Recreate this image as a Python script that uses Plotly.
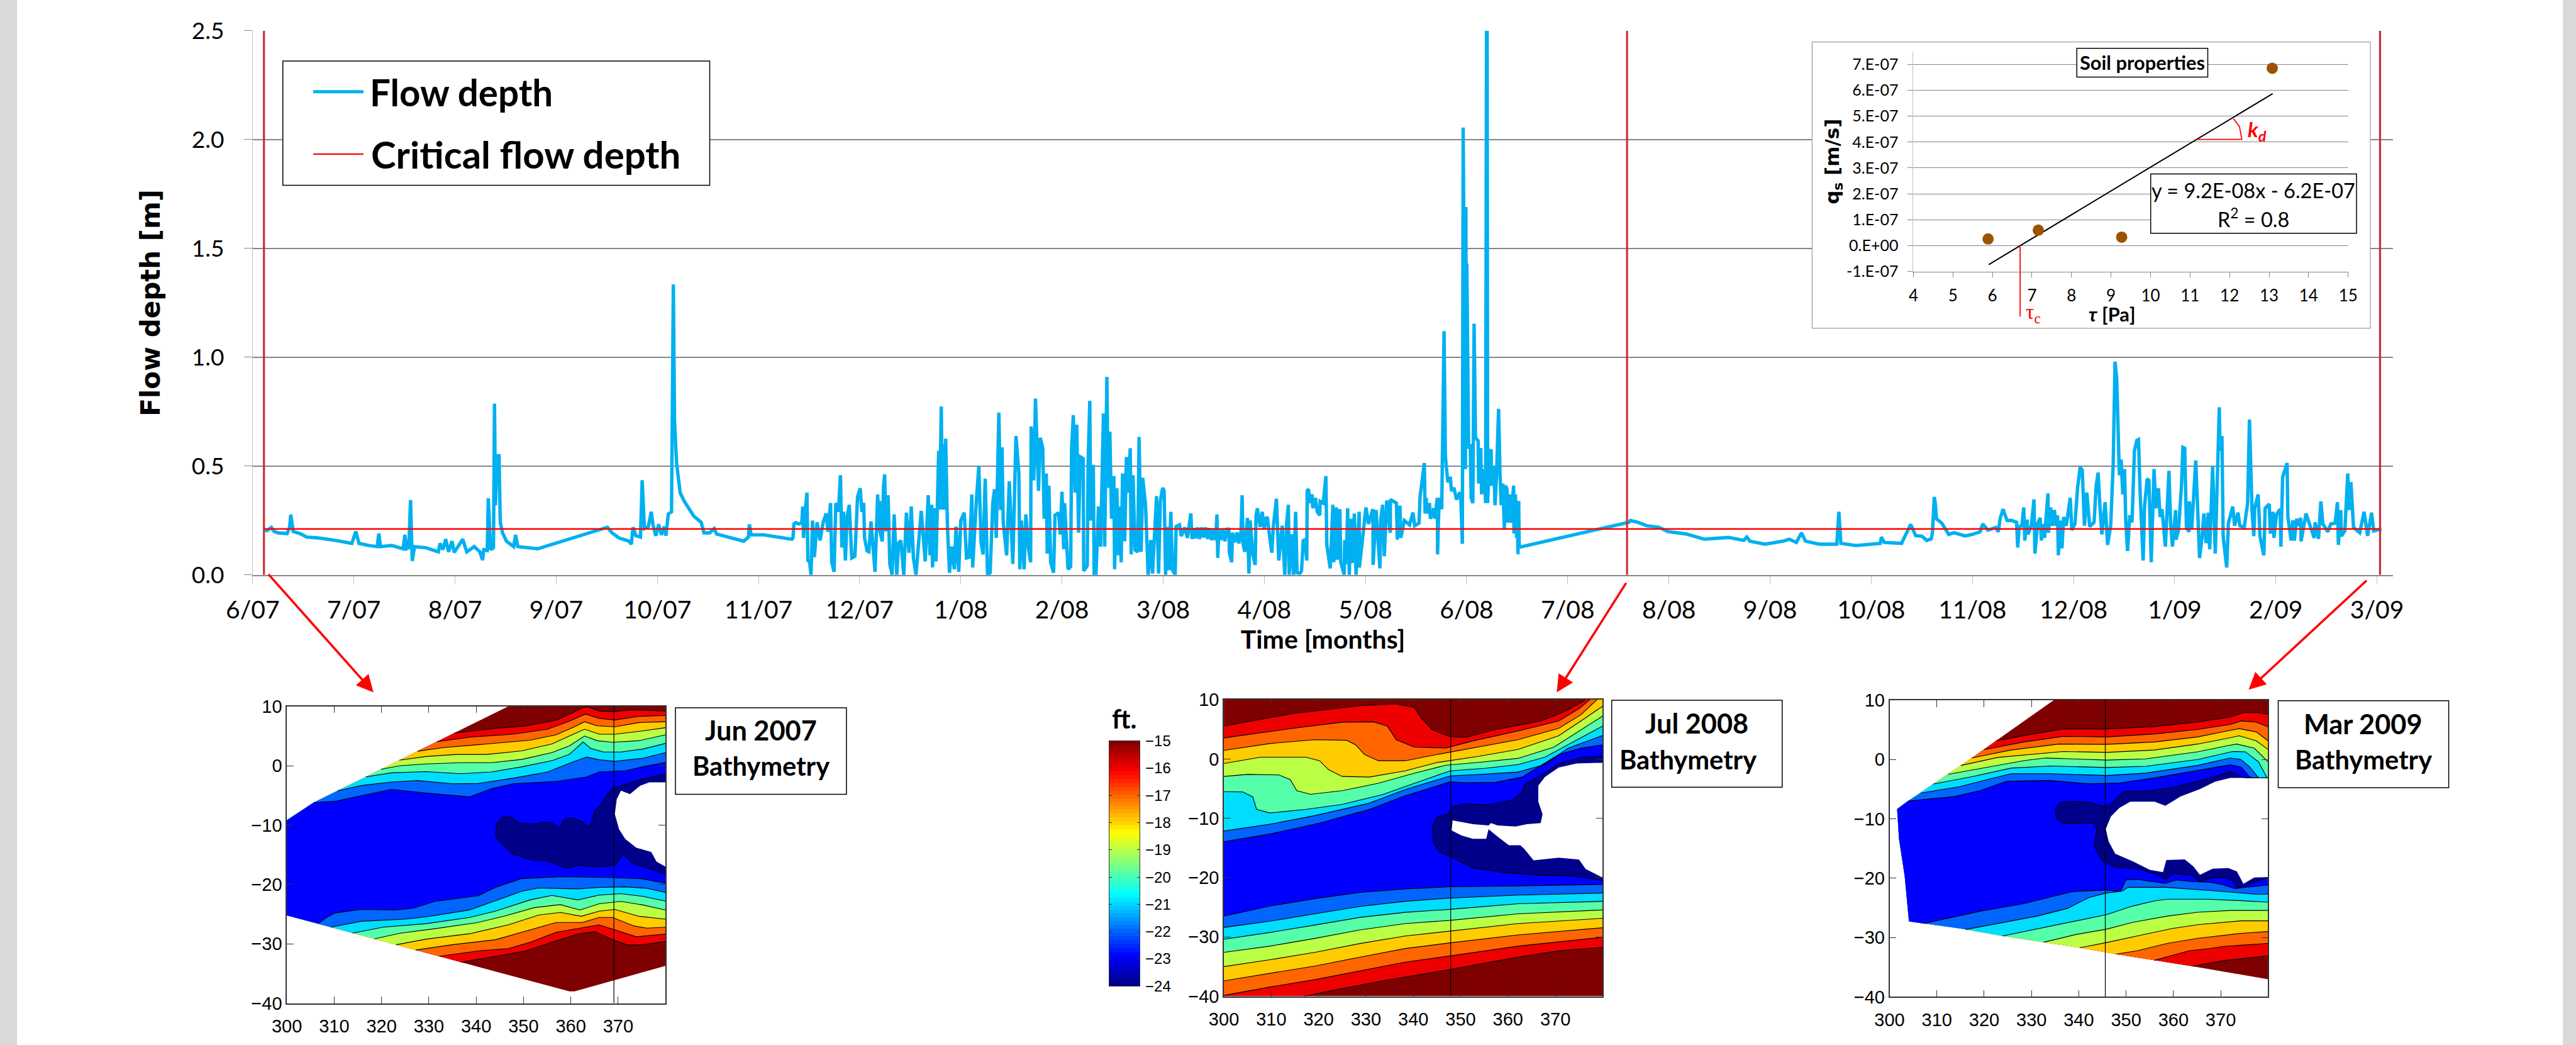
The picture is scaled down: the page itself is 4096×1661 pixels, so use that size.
import plotly.graph_objects as go

REF_W, REF_H = 4918, 1994
S = 4096 / REF_W

MONTH_LABELS = ["6/07","7/07","8/07","9/07","10/07","11/07","12/07","1/08","2/08","3/08","4/08",
                "5/08","6/08","7/08","8/08","9/08","10/08","11/08","12/08","1/09","2/09","3/09"]
MONTH_POS = list(range(22))
CRITICAL_DEPTH = 0.211
SURVEY_MONTHS = [0.111, 13.586, 21.03]

FLOW_2007 = [(0.11,.21),(.14,.203),(.185,.218),(.21,.2),(.25,.193),(.34,.19),(.365,.22),(.376,.277),(.40,.2),(.477,.188),
 (.533,.174),(.645,.17),(.814,.159),(.98,.145),(1.02,.2),(1.05,.145),(1.15,.135),(1.23,.13),(1.247,.19),(1.263,.13),
 (1.375,.135),(1.487,.12),(1.504,.184),(1.52,.12),(1.543,.125),(1.56,.344),(1.577,.064),(1.6,.13),(1.71,.125),(1.835,.106),
 (1.852,.145),(1.88,.116),(1.908,.164),(1.936,.106),(1.97,.155),(1.992,.103),(2.076,.164),(2.116,.106),(2.19,.13),(2.245,.106),
 (2.273,.068),(2.284,.116),(2.318,.112),(2.329,.352),(2.351,.116),(2.38,.125),(2.39,.787),(2.40,.32),(2.413,.532),(2.424,.547),
 (2.435,.547),(2.447,.242),(2.47,.193),(2.508,.155),(2.58,.13),(2.598,.184),(2.62,.13),(2.72,.125),(2.817,.12),(3.507,.219),
 (3.552,.193),(3.62,.17),(3.72,.155),(3.743,.141),(3.76,.219),(3.788,.18),(3.833,.174),(3.85,.435),(3.872,.213),(3.911,.222),
 (3.94,.29),(3.956,.232),(3.984,.18),(4.013,.232),(4.04,.184),(4.068,.222),(4.085,.18),(4.108,.28),(4.14,.29),(4.158,1.335),
 (4.17,.706),(4.19,.513),(4.226,.377),(4.265,.339),(4.304,.31),(4.36,.27),(4.433,.242),(4.461,.193),(4.517,.193),(4.562,.213),
 (4.585,.188),(4.714,.174),(4.854,.155),(4.9,.174),(4.91,.232),(4.927,.184),(5.05,.184),(5.33,.164)]

FLOW_WINTER_A = [(5.341,.17),(5.35,.234),(5.367,.24),(5.40,.234),(5.428,.24),(5.437,.314),(5.445,.17),(5.466,.314),(5.479,.378),
 (5.488,.066),(5.505,.062),(5.519,0),(5.534,.25),(5.552,.082),(5.579,.242),(5.609,.158),(5.638,.24),(5.669,.282),(5.686,.198),
 (5.712,.33),(5.724,.058),(5.747,.014),(5.764,.33),(5.79,.29),(5.81,.458),(5.824,.126),(5.841,.29),(5.859,.066),(5.876,.266),
 (5.897,.322),(5.922,.078),(5.953,.086),(5.979,.358),(6.005,.398),(6.022,.29),(6.04,.33),(6.048,.17),(6.074,.11),(6.091,.106),
 (6.112,.246),(6.134,.106),(6.152,.014),(6.178,.37),(6.19,.2),(6.196,.34),(6.203,.194),(6.224,.154),(6.235,.4),(6.247,.462),
 (6.26,.2),(6.281,.366),(6.298,.05),(6.321,0),(6.341,.278),(6.367,0),(6.384,.146),(6.407,.158),(6.436,0),(6.462,.286),(6.488,.102),
 (6.51,.314),(6.531,.078),(6.557,0),(6.583,.162),(6.609,.294),(6.648,.062),(6.678,.366),(6.695,.09),(6.712,.322),(6.72,.034),
 (6.738,.306),(6.755,.062),(6.781,.57),(6.79,.3),(6.798,.7),(6.807,.774),(6.816,.3),(6.822,.434),(6.83,.6),(6.836,.3),(6.85,.626),
 (6.867,.234),(6.888,.01),(6.91,.13),(6.936,.026),(6.953,.222),(6.979,.014),(7.0,.25),(7.034,.286),(7.056,.078),(7.083,.082),
 (7.109,.37),(7.117,.034),(7.152,.33),(7.178,.50),(7.2,.15),(7.22,.094),(7.241,.442),(7.264,0),(7.29,.01),(7.316,.33),(7.333,.394),
 (7.35,.17),(7.376,.746),(7.393,.298),(7.407,.586),(7.419,.242),(7.453,.09),(7.479,.43),(7.514,.05),(7.545,.638),(7.574,.466),
 (7.583,.026),(7.6,.25),(7.626,.026),(7.643,.278),(7.669,.12),(7.69,.058),(7.695,.682),(7.721,.434),(7.738,.81)]

FLOW_WINTER_B = [(7.768,.386),(7.785,.63),(7.81,.582),(7.824,.258),(7.845,.466),(7.854,.098),(7.871,.41),(7.888,.058),(7.917,.01),
 (7.931,.274),(7.966,.286),(7.983,.186),(8,.382),(8.017,.118),(8.026,.33),(8.06,.026),(8.086,.038),(8.095,.578),(8.112,.734),
 (8.129,.378),(8.146,.69),(8.164,.194),(8.181,.542),(8.21,.534),(8.215,.018),(8.25,.042),(8.258,.506),(8.275,.80),(8.284,.25),
 (8.31,.506),(8.318,0),(8.336,0),(8.361,.314),(8.382,.13),(8.41,.742),(8.422,.13),(8.444,.91),(8.456,.40),(8.473,.658),(8.49,.258),
 (8.513,.454),(8.52,.026),(8.542,.398),(8.559,.09),(8.568,.314),(8.585,.058),(8.599,.466),(8.62,.154),(8.637,.542),(8.654,.378),
 (8.675,.582),(8.684,.094),(8.702,.458),(8.723,.114),(8.749,.106),(8.762,.634),(8.783,.106),(8.798,.446),(8.826,.322),(8.852,0),
 (8.878,.16),(8.895,.006),(8.935,.362),(8.955,.006),(8.972,.338),(8.995,.40),(9.01,.386),(9.024,0),(9.041,.22),(9.058,.022),
 (9.076,.29),(9.093,.022),(9.119,0),(9.128,.222),(9.162,.23),(9.179,.178),(9.214,.218),(9.24,.17),(9.274,.282),(9.285,.165),
 (9.30,.215),(9.32,.168),(9.34,.218),(9.36,.165),(9.38,.218),(9.40,.172),(9.42,.218),(9.44,.165),(9.46,.215),(9.48,.16),(9.50,.21),
 (9.52,.16),(9.532,.278),(9.54,.078),(9.55,.21),(9.57,.16),(9.59,.21),(9.61,.155),(9.63,.21),(9.65,.21),(9.655,.102),(9.678,.058),
 (9.686,.194),(9.71,.15),(9.73,.195),(9.75,.145),(9.77,.2),(9.781,.366),(9.79,.145),(9.807,.106),(9.833,.262),(9.848,.006),(9.86,.25),
 (9.888,.09),(9.91,.046),(9.918,.27),(9.931,.306),(9.96,.22),(9.98,.29),(10.0,.21),(10.014,.258),(10.03,.266),(10.05,.186),
 (10.074,.102),(10.09,.226),(10.12,.35),(10.143,.066),(10.177,.226),(10.203,0),(10.22,.234),(10.238,.322),(10.246,0),(10.272,.186),
 (10.289,0),(10.31,.29),(10.324,.01),(10.351,.006)]

FLOW_SPRING = [(10.368,.018),(10.385,.158),(10.403,.162),(10.42,.066),(10.424,.386),(10.437,.394),(10.454,.33),(10.471,.37),(10.48,.306),
 (10.506,.354),(10.523,.29),(10.549,.274),(10.552,.338),(10.583,.33),(10.609,.454),(10.618,.138),(10.652,.03),(10.678,.322),(10.687,.058),
 (10.713,.31),(10.721,.07),(10.747,.302),(10.756,.058),(10.79,0),(10.795,.16),(10.81,.05),(10.824,.306),(10.84,0),(10.859,.258),
 (10.878,.055),(10.89,.282),(10.907,0),(10.938,.29),(10.94,.034),(11.005,.31),(11.03,.234),(11.074,.302),(11.076,.046),(11.105,.298),
 (11.143,.03),(11.151,.25),(11.17,.322),(11.186,.086),(11.211,.342),(11.246,.194),(11.247,.346),(11.306,.33),(11.315,.162),(11.341,.318),
 (11.35,.17),(11.384,.25),(11.436,.23),(11.47,.286),(11.487,.226),(11.53,.238),(11.539,.354),(11.582,.514),(11.59,.282),(11.6,.354),
 (11.608,.282),(11.633,.33),(11.642,.258),(11.676,.306),(11.685,.258),(11.711,.354),(11.713,.094),(11.728,.354),(11.754,.302),(11.777,1.12),
 (11.79,.546),(11.814,.426),(11.84,.45),(11.849,.386),(11.875,.4),(11.9,.346),(11.934,.38),(11.943,.346),(11.958,.143),(11.966,2.055),
 (11.988,.486),(11.993,1.69),(11.998,.6),(12.002,1.43),(12.02,.58),(12.036,.6),(12.045,.355),(12.062,.33),(12.074,1.154),(12.088,.63),
 (12.114,.616),(12.119,.42),(12.14,.583),(12.148,.37),(12.174,.486),(12.188,.33),(12.197,2.6),(12.203,2.6),(12.208,.33),(12.226,.567),
 (12.243,.575),(12.246,.41),(12.269,.5),(12.281,.32),(12.295,.45),(12.316,.763),(12.33,.47),(12.342,.32),(12.359,.42),(12.373,.208),
 (12.382,.41),(12.399,.396),(12.408,.24),(12.43,.37),(12.433,.24),(12.465,.41),(12.468,.19),(12.482,.37),(12.494,.17),(12.5,.34),
 (12.508,.095),(12.515,.34),(12.52,.127)]

FLOW_SUMMER_2008 = [(13.59,.242),(13.606,.242),(13.62,.25),(13.69,.242),(13.78,.226),(13.9,.219),(13.99,.199),(14.17,.188),(14.35,.164),
 (14.59,.172),(14.74,.159),(14.77,.174),(14.8,.155),(14.95,.141),(15.13,.155),(15.19,.164),(15.26,.149),(15.31,.193),(15.35,.155),
 (15.49,.141),(15.66,.141),(15.68,.29),(15.7,.145),(15.85,.135),(16.09,.145),(16.1,.174),(16.13,.149),(16.3,.145),(16.34,.184),
 (16.39,.232),(16.44,.18),(16.5,.178),(16.55,.158),(16.594,.166),(16.606,.2),(16.623,.358),(16.633,.33),(16.645,.258),(16.697,.238),
 (16.731,.214),(16.766,.186),(16.818,.194),(16.929,.179),(16.998,.186),(17.076,.198),(17.102,.234),(17.153,.206),(17.231,.218),(17.256,.198),
 (17.274,.258),(17.303,.302),(17.343,.25),(17.386,.25),(17.437,.242),(17.448,.126),(17.463,.222),(17.489,.226),(17.508,.31),(17.518,.158),
 (17.54,.254),(17.549,.186),(17.583,.226),(17.609,.347),(17.618,.098),(17.644,.234),(17.67,.262),(17.682,.158),(17.695,.234),(17.713,.17),
 (17.747,.374),(17.752,.194),(17.773,.31),(17.79,.226),(17.811,.298),(17.828,.226),(17.842,.274),(17.85,.09),(17.867,.25),(17.885,.122),
 (17.902,.266),(17.928,.226),(17.967,.354),(17.983,.206),(18.014,.234),(18.04,.402),(18.065,.494),(18.086,.482),(18.108,.226),(18.131,.378),
 (18.16,.222),(18.203,.242),(18.224,.41),(18.243,.47),(18.263,.298),(18.28,.186),(18.312,.334),(18.337,.138),(18.367,.226),(18.392,.506),
 (18.41,.98),(18.427,.9),(18.453,.458),(18.47,.53),(18.487,.37),(18.504,.486),(18.516,.25),(18.534,.11),(18.556,.274),(18.578,.242),
 (18.602,.57),(18.625,.618),(18.642,.622),(18.659,.37),(18.688,.066),(18.702,.314),(18.728,.442),(18.745,.434),(18.768,.058)]

FLOW_WINTER_2009 = [(18.796,.486),(18.813,.306),(18.839,.398),(18.856,.266),(18.874,.302),(18.908,.13),(18.943,.478),(18.96,.234),(18.978,.13),
 (19.009,.298),(19.012,.162),(19.038,.206),(19.067,.41),(19.081,.586),(19.099,.582),(19.116,.218),(19.142,.198),(19.145,.338),(19.168,.21),
 (19.208,.526),(19.228,.234),(19.246,.078),(19.272,.182),(19.289,.282),(19.31,.146),(19.332,.286),(19.346,.118),(19.375,.498),(19.401,.098),
 (19.441,.77),(19.448,.57),(19.467,.638),(19.479,.178),(19.514,.034),(19.531,.238),(19.574,.314),(19.592,.226),(19.626,.286),(19.644,.226),
 (19.687,.218),(19.721,.33),(19.739,.714),(19.765,.29),(19.782,.178),(19.791,.306),(19.825,.37),(19.843,.178),(19.881,.09),(19.894,.306),
 (19.934,.326),(19.946,.19),(19.972,.29),(19.981,.17),(20.007,.278),(20.042,.302),(20.05,.13),(20.067,.45),(20.111,.514),(20.119,.266),
 (20.151,.158),(20.168,.25),(20.182,.158),(20.206,.258),(20.223,.226),(20.246,.262),(20.249,.154),(20.298,.282),(20.327,.242),(20.379,.17),
 (20.388,.242),(20.422,.166),(20.445,.338),(20.465,.234),(20.514,.198),(20.543,.234),(20.586,.238),(20.609,.334),(20.618,.138),(20.642,.298),
 (20.647,.178),(20.682,.202),(20.711,.466),(20.725,.298),(20.742,.426),(20.768,.218),(20.829,.194),(20.872,.29),(20.907,.179),(20.946,.286),
 (20.967,.202),(21.045,.211)]

flow_pairs = FLOW_2007 + FLOW_WINTER_A + FLOW_WINTER_B + FLOW_SPRING + FLOW_SUMMER_2008 + FLOW_WINTER_2009
flow_month = [p[0] for p in flow_pairs]
flow_depth = [p[1] for p in flow_pairs]

# Soil properties inset
SOIL_TAU = [5.89, 7.16, 9.27, 13.08]
SOIL_QS = [0.26e-7, 0.60e-7, 0.33e-7, 6.85e-7]
TREND_TAU = [5.905, 13.09]
TREND_QS = [-0.73e-7, 5.87e-7]
TAU_C = 6.70
KD_X = [11.17, 12.31, 12.31, 12.25, 12.1]
KD_Y = [4.10e-7, 4.10e-7, 4.10e-7, 4.6e-7, 4.9e-7]
INSET_Y_TICKS = [-1e-7, 0, 1e-7, 2e-7, 3e-7, 4e-7, 5e-7, 6e-7, 7e-7]
INSET_Y_LABELS = ["-1.E-07","0.E+00","1.E-07","2.E-07","3.E-07","4.E-07","5.E-07","6.E-07","7.E-07"]

BAND_COLOURS = ["#EE0000","#FF6600","#FFCC00","#BBFF44","#55FFAA","#00DDFF","#0066FF","#0000FF"]
OUTER_COLOUR = "#7F0000"
NAVY = "#00008B"

# ---------- Jun 2007 ----------
P1_TOP = [(300,-9.2),(305.7,-6.2),(346.8,10)]
P1_BOTTOM = [(300,-25.2),(359.7,-38),(360.8,-38),(380,-33.7)]
P1_UP = [
 [(335.4,5.5),(343.2,6.2),(350.5,6.7),(356.9,7.65),(360.1,8.8),(362.4,9.75),(363.6,9.9),(366,9.2),(368.8,9.1),(372.9,9.4),(380,9.2)],
 [(331.7,4.04),(338.6,4.8),(347.8,5.3),(355.1,6.15),(359.7,7.5),(363.1,8.7),(366,7.95),(369.3,7.7),(374.3,8.3),(380,8.45)],
 [(327.6,2.43),(333.1,3.05),(342.3,3.65),(351.4,4.3),(356.9,5.2),(360.6,6.5),(362.9,7.4),(365.6,6.7),(369.3,6.55),(374.3,7.25),(380,7.4)],
 [(323.8,.93),(329.5,1.55),(335.9,1.9),(342.3,1.9),(349.6,2.5),(356,3.65),(360.1,5.15),(362.9,6.15),(366,5.3),(369.3,5.3),(375.2,5.85),(380,6.4)],
 [(319.9,-.6),(324,0),(329.5,.3),(336.8,.5),(343.2,.5),(349.6,1.05),(356,2.2),(359.7,3.35),(362.9,5),(365.6,4.2),(368.8,3.95),(374.3,4.2),(380,5.2)],
 [(316.7,-1.87),(322.1,-1.2),(329.5,-1),(336.8,-1.35),(343.2,-1.05),(349.6,-.2),(356,.85),(359.7,1.9),(362.6,4),(364.2,2.9),(366.9,2.3),(370.6,2.3),(375.2,2.8),(380,3.75)],
 [(310.7,-4.23),(315.7,-3.35),(322.1,-2.75),(327.6,-2.5),(335,-3.05),(340.4,-3),(347.8,-2.1),(355.1,-1.05),(359.7,.4),(363.3,1.45),(366,1),(369.3,.75),(375.2,1.25),(380,2.2)],
 [(305.7,-6.2),(310.2,-6),(315.7,-5.05),(322.1,-4),(329.5,-4.6),(338.6,-5.25),(343.2,-3.9),(347.8,-3.05),(356.9,-2.65),(363.3,-1.9),(366,-1.05),(371.5,-.85),(375.2,-.2),(380,.55)],
]
P1_LOW = [
 [(336.8,-33.1),(344.1,-32.1),(350.5,-31.2),(356.9,-29.5),(361.5,-28.35),(365.1,-27.95),(368.8,-29.3),(372,-30.2),(375.2,-30.15),(380,-29.6)],
 [(332.2,-32.1),(340.4,-31.2),(346.8,-30.8),(351.4,-29.75),(356.9,-28.05),(361.5,-27.45),(366,-26.8),(369.3,-27.65),(373.8,-28.8),(380,-28.35)],
 [(327.2,-31.05),(334.9,-30.15),(344.1,-29.3),(350.5,-27.85),(356.9,-26.4),(362.4,-26.4),(366,-25.55),(368.8,-25.55),(373.4,-27),(376.1,-27.35),(380,-27.2)],
 [(323.1,-30.15),(329.5,-29.2),(338.6,-28.3),(346.8,-26.8),(353.2,-25.15),(357.8,-24.7),(362.2,-25.35),(366,-24.5),(369.3,-24.2),(374.3,-25.35),(380,-25.85)],
 [(318.5,-29.15),(324,-28.2),(331.3,-27.45),(340.4,-26.4),(345.9,-25.35),(352.3,-23.9),(357.8,-23.4),(361.9,-24.3),(366,-23.25),(370.6,-22.85),(375.2,-23.45),(380,-24.3)],
 [(313.9,-28.2),(320.3,-27.2),(329.5,-26.6),(338.6,-25.55),(344.1,-24.5),(351.4,-22.6),(356,-21.85),(361.5,-22.6),(366,-21.8),(370.6,-21.55),(375.2,-22),(380,-22.8)],
 [(309.3,-27.2),(315.7,-26.2),(324.9,-25.85),(329.5,-25.45),(338.6,-24.3),(344.1,-22.75),(349.6,-21.15),(353.2,-20.6),(361.5,-20.75),(366,-20.5),(371.5,-20.4),(376.1,-20.65),(380,-21.35)],
 [(306.6,-26.6),(308.4,-25.55),(310.2,-24.8),(315.7,-24.2),(323.1,-24.3),(326.7,-24),(331.3,-22.85),(340.4,-21.9),(344.1,-20.5),(349.6,-19),(358.7,-18.7),(368.8,-18.85),(375.2,-19.05),(380,-19.8)],
]
P1_NAVY = [(380,-1.4),(375.2,-2.2),(371.5,-3.15),(368.8,-3.8),(367.4,-5.25),(366.5,-6.5),(365.1,-7.55),(364.7,-8.6),(364,-10.4),(362.4,-9.45),(360.6,-8.8),(358.7,-9),(357.6,-10.5),(356,-9.65),(354.2,-9.5),(352.3,-9.85),(349.1,-9.65),(347.3,-8.6),(345.5,-8.7),(344.3,-9.85),(344.1,-11.95),(345.5,-13.2),(347.8,-14.9),(351.9,-15.9),(355.1,-16.05),(359.2,-17.3),(361.5,-16.75),(365.1,-17.05),(369.3,-16.75),(370.6,-15.3),(371.5,-15.1),(372.9,-16.35),(375.2,-17),(380,-18.25)]
P1_HOLE = [(380,-2.8),(376.6,-2.8),(374.7,-3.35),(372.5,-4.8),(370.6,-4.2),(369.7,-5.65),(369.3,-8.15),(370.2,-10.7),(371.5,-12.35),(373.8,-13.8),(377,-14.55),(378.1,-16.15),(380,-17)]
P1_SECTION = 369.1

# ---------- Jul 2008 ----------
P2_TOP = [(300,10)]
P2_BOTTOM = [(300,-40),(380,-40)]
P2_UP = [
 [(300,5.55),(314.5,7.65),(328.8,9),(336.4,9.3),(340.2,8.7),(341.6,7),(344,4.95),(347.8,3.75),(351.1,3.65),(357.3,4.95),(366.9,6.4),(371.6,7.85),(375,9.3),(376.4,10)],
 [(300,3.55),(314.5,5.15),(325,6.2),(331.6,6.25),(334.5,5.55),(336.4,3.25),(340.2,2),(346.9,1.85),(352.6,3.05),(362.1,4.7),(370.7,6.4),(375,8.5),(377.3,10)],
 [(300,1.45),(309.7,2.6),(319.2,3.25),(325.9,3.15),(327.8,2.4),(329.7,.75),(332.6,-.3),(338.3,-.3),(345,.75),(353.5,2),(362.1,3.25),(370.7,5.15),(375.4,7.45),(378.8,10)],
 [(300,-.75),(307.8,.3),(317.3,.3),(320.2,-.3),(322.1,-1.8),(325,-2.95),(330.7,-3.05),(338.3,-2),(345,-.6),(353.5,.4),(362.1,1.6),(370.7,3.9),(375.4,6.4),(380,8.9)],
 [(300,-2.95),(305,-2.6),(311.6,-2.7),(314,-3.45),(315.4,-5.35),(318.3,-5.95),(325,-5.35),(332.6,-4.1),(340.2,-2.4),(346.9,-1.05),(353.5,-.6),(362.1,.1),(369.7,2),(375.4,4.95),(380,7.25)],
 [(300,-5.5),(304,-5.55),(306.1,-6.4),(306.9,-8.5),(309.7,-9.1),(317.3,-8.5),(325,-7.65),(333.5,-6),(341.1,-3.85),(347.8,-2),(355.4,-1.55),(362.1,-.95),(367.8,.3),(372.6,2.4),(380,5.55)],
 [(300,-12.15),(309.7,-11),(319.2,-9.55),(330.7,-7.45),(338.3,-5.15),(347.8,-2.85),(355.4,-2.55),(362.1,-2.2),(367.8,-.95),(372.6,1.8),(380,3.95)],
 [(300,-13.95),(309.7,-12.65),(320.2,-10.8),(330.7,-8.5),(338.3,-6.2),(347.8,-3.85),(350.7,-4),(357.3,-3.95),(363,-3.05),(370.7,.75),(375.4,1.8),(380,2.4)],
]
P2_LOW = [
 [(316.9,-40),(324,-38.85),(333.5,-37.4),(347.8,-35.5),(362.1,-33.4),(370.7,-32.35),(380,-31.75)],
 [(300,-39.85),(309.7,-38.45),(319.2,-37.2),(328.8,-35.7),(338.3,-34.25),(347.8,-33.2),(362.1,-31.55),(380,-30.05)],
 [(300,-37.4),(309.7,-36.15),(319.2,-34.9),(328.8,-33.4),(338.3,-31.95),(347.8,-31),(362.1,-29.65),(380,-28.45)],
 [(300,-35),(309.7,-33.85),(319.2,-32.6),(328.8,-31.1),(338.3,-29.85),(347.8,-29),(362.1,-27.75),(380,-26.85)],
 [(300,-32.6),(309.7,-31.55),(319.2,-30.25),(328.8,-28.8),(338.3,-27.75),(347.8,-27.2),(362.1,-26.1),(380,-25.45)],
 [(300,-30.4),(309.7,-29.25),(319.2,-28),(328.8,-26.7),(338.3,-25.85),(347.8,-25.35),(362.1,-24.4),(380,-24)],
 [(300,-28.4),(309.7,-27.35),(319.2,-26.1),(328.8,-24.85),(338.3,-24),(347.8,-23.45),(362.1,-22.95),(380,-22.6)],
 [(300,-26.5),(309.7,-24.8),(319.2,-23.55),(328.8,-22.5),(338.3,-21.9),(347.8,-21.55),(362.1,-21.4),(380,-21.15)],
]
P2_NAVY = [(380,.5),(375.4,.25),(370.7,-.75),(367.8,-2.4),(363.5,-4.3),(363,-5.55),(360.7,-7),(355.4,-7.75),(350.7,-7.55),(348.3,-8.05),(347.3,-9.3),(345,-9.8),(344,-11.4),(344.2,-13.95),(345.4,-15.6),(347.8,-16.45),(352.6,-18.35),(359.2,-19.15),(366.9,-19.6),(373.5,-19.7),(380,-20.45)]
P2_HOLE = [(380,-.65),(374.5,-.75),(370.7,-1.45),(367.8,-3.05),(366.4,-4.5),(366.4,-7.2),(367.3,-9.3),(366.9,-10.8),(364,-11),(361.6,-11.4),(357.8,-11.2),(356.4,-10.8),(355.9,-11.2),(352.6,-11),(348.3,-10.35),(348.1,-12.05),(350.2,-12.9),(352.6,-13.45),(355.4,-13.45),(355.9,-11.85),(357.8,-13.1),(360.2,-14.55),(362.6,-14.55),(363.5,-15.2),(365.4,-17.1),(370.7,-16.65),(375,-16.95),(376.4,-18.55),(380,-20)]
P2_SECTION = 347.9

# ---------- Mar 2009 ----------
P3_TOP = [(303.2,-19.65),(302,-13.4),(301.6,-8.35),(303.7,-7.1),(309.2,-4.15),(317.4,.25),(322.5,3.15),(334.7,10)]
P3_BOTTOM = [(304.1,-27.3),(315.1,-28.5),(323.9,-29.75),(340.4,-31.75),(348.6,-32.9),(365.1,-35),(380,-37.05)]
P3_UP = [
 [(322.5,3.15),(330.3,4.3),(336.7,5.15),(345.9,5.15),(356,5.55),(365.1,6.3),(372,7.15),(374.8,7.9),(377.5,7.9),(380,7.65)],
 [(320,1.67),(328.4,2.95),(336.7,3.9),(345.9,3.8),(356,4.3),(365.1,5.05),(372,5.9),(374.3,6.5),(377.5,6.3),(380,5.5)],
 [(317.4,.25),(325.7,1.6),(335.8,2.6),(345.9,2.55),(356,2.95),(365.1,3.8),(371.6,4.85),(373.9,5.2),(377.5,4.65),(380,3.15)],
 [(315.1,-1),(322.9,.35),(336.7,1.35),(345.9,1.2),(356,1.6),(365.1,2.6),(371.6,3.6),(373.9,4),(377.5,3.15),(380,1.7)],
 [(312.4,-2.5),(321.1,-1.25),(328.4,-.2),(333,.25),(345.9,-.1),(354.1,.1),(365.1,1.3),(371.6,2.35),(373.4,2.6),(377.1,1.9),(380,-.4)],
 [(309.2,-4.15),(317.4,-2.9),(325.7,-1.45),(333.9,-1.1),(345.9,-1.35),(354.1,-1.15),(365.1,0),(372.5,1.35),(375.2,1.3),(378,-.4),(379.8,-3.1)],
 [(306.6,-5.65),(314.7,-4.6),(321.1,-3.3),(325.7,-2.4),(333.9,-2.4),(345.9,-2.7),(354.1,-2.3),(365.1,-1),(372,.25),(374.3,0),(376.1,-1.25),(378,-3.1)],
 [(303.9,-7),(313.8,-6.25),(319.3,-5.2),(324.8,-3.65),(333.9,-3.55),(342.2,-4.1),(348.6,-3.95),(356,-3.1),(365.1,-1.85),(372,-.9),(374.3,-1.25),(376.1,-2.9),(376.6,-3.1)],
]
P3_LOW = [
 [(364,-34.85),(370.6,-33.9),(380,-33.1)],
 [(356,-33.85),(363.3,-32.25),(367.9,-31.85),(370.6,-31.5),(380,-31)],
 [(347.9,-32.8),(352.3,-32.25),(358.7,-31),(365.1,-30.15),(374.3,-29.3),(380,-29)],
 [(340.2,-31.75),(345.9,-30.85),(352.3,-29.75),(359.6,-28.5),(365.1,-27.85),(374.3,-27.2),(380,-27.2)],
 [(332.6,-30.8),(339.4,-29.5),(345.9,-28.6),(351.4,-27.45),(358.7,-26.4),(365.1,-25.75),(372,-25.45),(380,-25.45)],
 [(323.9,-29.75),(333,-28.25),(342.2,-26.8),(345.9,-26.15),(351.4,-24.7),(356,-23.85),(358.7,-23.55),(367,-23.55),(374.3,-23.8),(380,-24.05)],
 [(316.1,-28.65),(323.9,-27.45),(331.2,-26.4),(337.6,-25.1),(342.2,-23.25),(345.9,-22.5),(349.1,-22.2),(350.5,-21.55),(358.3,-21.55),(369.7,-22.2),(377.1,-22.7),(380,-22.7)],
 [(307.2,-27.65),(319.3,-25.55),(328.4,-24.3),(338.5,-22.3),(345.9,-22),(348.8,-22.25),(350,-20.3),(352.3,-20.2),(358.3,-20.9),(360.6,-20.3),(364.2,-20.6),(367.9,-20.7),(370.6,-21.15),(372.9,-21.75),(380,-21.15)],
]
P3_NAVY = [(380,-3.1),(375.2,-3.1),(372,-2),(368.8,-2.9),(360.6,-4.6),(355,-5.3),(349.5,-5.4),(348.4,-6.25),(346.8,-7.5),(345.6,-8),(342.2,-7.2),(339.4,-7.1),(336.2,-7.2),(335,-8.35),(335.3,-10),(336.7,-10.75),(343.1,-10.75),(343.8,-11.7),(343.3,-14.65),(345,-17.15),(347.7,-18.2),(352.3,-18.4),(356,-19.25),(358.3,-20.2),(360.1,-19.25),(363.8,-19.45),(365.6,-20.6),(368.3,-19.9),(371.1,-19.9),(372.9,-20.7),(373.4,-21.75),(374.8,-21.35),(380,-19.9)]
P3_HOLE = [(380,-3.1),(372,-3.1),(368.8,-3.75),(365.6,-5),(361.5,-6.25),(358.3,-7.8),(356,-7.1),(350.9,-7.1),(348.6,-8.15),(346.8,-9.6),(345.7,-11.7),(346.3,-13.8),(347.7,-15.9),(351.4,-17.15),(355,-18.6),(357.8,-19),(358.5,-16.95),(362.4,-16.85),(364.2,-18),(365.6,-19.45),(368.3,-18.4),(371.6,-18.3),(373.4,-18.85),(374.8,-20.95),(377.1,-19.9),(380,-19.8)]
P3_SECTION = 345.6

PANEL_X_TICKS = [300,310,320,330,340,350,360,370]
PANEL_Y_TICKS = [-40,-30,-20,-10,0,10]
COLORBAR_TICKS = [-24,-23,-22,-21,-20,-19,-18,-17,-16,-15]
JET = [[0,"#00007F"],[.125,"#0000FF"],[.375,"#00FFFF"],[.625,"#FFFF00"],[.875,"#FF0000"],[1,"#7F0000"]]

GRID = "#868686"
BLUE = "#00B0F0"
TXT = "Lato, Carlito, Calibri, sans-serif"
ARIAL = "Liberation Sans, Arial, sans-serif"
WIDE = "DejaVu Sans, Verdana, sans-serif"

def fx(p): return p / REF_W
def fy(p): return 1 - p / REF_H
def dom_x(a, b): return [fx(a), fx(b)]
def dom_y(top, bottom): return [fy(bottom), fy(top)]

fig = go.Figure()
layout = dict(width=4096, height=1661, margin=dict(l=0, r=0, t=0, b=0, pad=0, autoexpand=False),
              paper_bgcolor="white", plot_bgcolor="rgba(0,0,0,0)", showlegend=False)

# main axes
layout["xaxis"] = dict(domain=dom_x(482.5, 4569), range=[0, 21.16], tickmode="array", tickvals=MONTH_POS, ticktext=MONTH_LABELS,
    showgrid=False, zeroline=False, showline=True, linecolor=GRID, linewidth=1.5, ticks="outside", ticklen=13, tickcolor="#BFBFBF", tickwidth=1.2,
    tickfont=dict(family=TXT, size=39, color="black"), ticklabelstandoff=8,
    title=dict(text="<b>Time [months]</b>", font=dict(family=TXT, size=41, color="black"), standoff=2))
layout["yaxis"] = dict(domain=dom_y(58.7, 1097), range=[0, 2.5], tickvals=[0,.5,1,1.5,2,2.5], tickformat=".1f",
    showgrid=True, gridcolor=GRID, gridwidth=1.5, zeroline=False, showline=True, linecolor="#BFBFBF", linewidth=1.2,
    ticks="outside", ticklen=13, tickcolor=GRID, tickwidth=1.2,
    tickfont=dict(family=TXT, size=37, color="black"), ticklabelstandoff=24,
    title=dict(text="<b>Flow depth [m]</b>", font=dict(family=WIDE, size=42, color="black"), standoff=36))

fig.add_trace(go.Scatter(x=flow_month, y=flow_depth, mode="lines", name="Flow depth", line=dict(color=BLUE, width=5.4)))
fig.add_trace(go.Scatter(x=[SURVEY_MONTHS[0], SURVEY_MONTHS[-1]], y=[CRITICAL_DEPTH, CRITICAL_DEPTH], mode="lines",
                         name="Critical flow depth", line=dict(color="#FF0000", width=2.6)))
for m in SURVEY_MONTHS:
    fig.add_trace(go.Scatter(x=[m, m], y=[0, 2.5], mode="lines", line=dict(color="#CC2D37", width=3.2), showlegend=False))

# inset backing
layout["xaxis2"] = dict(domain=dom_x(3459, 4526), range=[0, 1], visible=False)
layout["yaxis2"] = dict(domain=dom_y(79.6, 627), range=[0, 1], visible=False)
fig.add_trace(go.Scatter(x=[0,1,1,0,0], y=[0,0,1,1,0], xaxis="x2", yaxis="y2", mode="lines", fill="toself", fillcolor="white",
                         line=dict(color=GRID, width=2), cliponaxis=False))

# inset axes
layout["xaxis3"] = dict(domain=dom_x(3653, 4483), range=[4, 15], tickvals=list(range(4, 16)), anchor="y3",
    showgrid=False, zeroline=False, showline=True, linecolor=GRID, linewidth=1.3, ticks="outside", ticklen=8, tickcolor=GRID,
    tickfont=dict(family=TXT, size=26, color="black"), ticklabelstandoff=7)
layout["yaxis3"] = dict(domain=dom_y(98, 518.3), range=[-1e-7, 7.5e-7], tickmode="array", tickvals=INSET_Y_TICKS, ticktext=INSET_Y_LABELS, anchor="x3",
    showgrid=True, gridcolor=GRID, gridwidth=1.3, zeroline=False, showline=True, linecolor="#BFBFBF", linewidth=1, ticks="outside", ticklen=8, tickcolor=GRID,
    tickfont=dict(family=TXT, size=25, color="black"), ticklabelstandoff=10,
    title=dict(text="<b>q<sub>s</sub> [m/s]</b>", font=dict(family=WIDE, size=31, color="black"), standoff=2))
fig.add_trace(go.Scatter(x=TREND_TAU, y=TREND_QS, xaxis="x3", yaxis="y3", mode="lines", line=dict(color="black", width=2)))
fig.add_trace(go.Scatter(x=SOIL_TAU, y=SOIL_QS, xaxis="x3", yaxis="y3", mode="markers", marker=dict(color="#9C5200", size=18), cliponaxis=False))
fig.add_trace(go.Scatter(x=KD_X, y=KD_Y, xaxis="x3", yaxis="y3", mode="lines", line=dict(color="#FF0000", width=1.8)))

def poly(points, xa, ya, color):
    fig.add_trace(go.Scatter(x=[p[0] for p in points], y=[p[1] for p in points], xaxis=xa, yaxis=ya, mode="lines",
                             fill="toself", fillcolor=color, hoverinfo="skip",
                             line=dict(color="rgba(0,0,0,0)", width=0)))

def curve(points, xa, ya):
    fig.add_trace(go.Scatter(x=[p[0] for p in points], y=[p[1] for p in points], xaxis=xa, yaxis=ya, mode="lines",
                             line=dict(color="black", width=1.1), hoverinfo="skip"))

def panel(index, left, right, top_px, bottom_px, TOP, BOTTOM, UP, LOW, NAVY_PTS, HOLE, section):
    xa, ya = f"x{index}", f"y{index}"
    layout[f"xaxis{index}"] = dict(domain=dom_x(left, right), range=[300, 380], tickvals=PANEL_X_TICKS, anchor=ya,
        showgrid=False, zeroline=False, showline=True, mirror="ticks", linecolor="#333333", linewidth=1.5, ticks="inside", ticklen=11, tickcolor="#333333", tickwidth=1,
        tickfont=dict(family=ARIAL, size=29, color="black"), ticklabelstandoff=10)
    layout[f"yaxis{index}"] = dict(domain=dom_y(top_px, bottom_px), range=[-40, 10], tickvals=PANEL_Y_TICKS, anchor=xa,
        showgrid=False, zeroline=False, showline=True, mirror="ticks", linecolor="#333333", linewidth=1.5, ticks="inside", ticklen=11, tickcolor="#333333", tickwidth=1,
        tickfont=dict(family=ARIAL, size=29, color="black"))
    base = list(TOP) + [(TOP[-1][0], 10) if TOP[-1][1] < 10 else TOP[-1], (380, 10), (380, BOTTOM[-1][1])] + list(BOTTOM[::-1])
    poly(base, xa, ya, OUTER_COLOUR)
    for T, B, col in zip(UP, LOW, BAND_COLOURS):
        pts = list(T)
        if T[-1][0] < 380:
            pts.append((380, T[-1][1]))
        pts += B[::-1]
        pts += [p for p in BOTTOM[::-1] if p[0] < B[0][0]]
        pts += [p for p in TOP if p[0] < T[0][0]]
        poly(pts, xa, ya, col)
    poly(NAVY_PTS, xa, ya, NAVY)
    poly(HOLE, xa, ya, "white")
    for c in UP + LOW:
        curve(c, xa, ya)
    curve(NAVY_PTS, xa, ya)
    fig.add_trace(go.Scatter(x=[section, section], y=[-40, 10], xaxis=xa, yaxis=ya, mode="lines", line=dict(color="black", width=1.2)))

panel(4, 547.6, 1270.5, 1347.7, 1914.3, P1_TOP, P1_BOTTOM, P1_UP, P1_LOW, P1_NAVY, P1_HOLE, P1_SECTION)
panel(5, 2336.6, 3059.8, 1335, 1901, P2_TOP, P2_BOTTOM, P2_UP, P2_LOW, P2_NAVY, P2_HOLE, P2_SECTION)
panel(6, 3607.5, 4330, 1336, 1902, P3_TOP, P3_BOTTOM, P3_UP, P3_LOW, P3_NAVY, P3_HOLE, P3_SECTION)

# colour bar
cb_steps = 64
cb_edges = [-24 + 9 * i / cb_steps for i in range(cb_steps + 1)]
cb_z = [[(cb_edges[i] + cb_edges[i + 1]) / 2] for i in range(cb_steps)]
layout["xaxis7"] = dict(domain=dom_x(2118, 2176), range=[0, 1], anchor="y7", showticklabels=False, ticks="", showgrid=False, zeroline=False,
                        showline=True, mirror=True, linecolor="#333333", linewidth=1)
layout["yaxis7"] = dict(domain=dom_y(1413.7, 1881.6), range=[-24, -15], tickvals=COLORBAR_TICKS, anchor="x7", side="right", showgrid=False, zeroline=False,
                        showline=True, mirror="ticks", linecolor="#333333", linewidth=1, ticks="inside", ticklen=4, tickcolor="#333333",
                        tickfont=dict(family=ARIAL, size=24, color="black"), ticklabelstandoff=3)
fig.add_trace(go.Heatmap(x=[0, 1], y=cb_edges, z=cb_z, xaxis="x7", yaxis="y7", colorscale=JET, zmin=-24, zmax=-15, showscale=False))

fig.update_layout(**layout)

shapes = []
def rect(x0, y0, x1, y1, fill="white", line="black", width=1.5, layer="above"):
    shapes.append(dict(type="rect", xref="paper", yref="paper", x0=fx(x0), x1=fx(x1), y0=fy(y1), y1=fy(y0), fillcolor=fill,
                       line=dict(color=line, width=width), layer=layer))
def hline(x0, x1, y, color, width):
    shapes.append(dict(type="line", xref="paper", yref="paper", x0=fx(x0), x1=fx(x1), y0=fy(y), y1=fy(y), line=dict(color=color, width=width), layer="above"))

rect(0, 0, 32.5, REF_H, fill="#D9D9D9", line="rgba(0,0,0,0)", width=0, layer="below")
rect(4893, 0, REF_W, REF_H, fill="#D9D9D9", line="rgba(0,0,0,0)", width=0, layer="below")
rect(540, 116.5, 1355, 353.6)
hline(598, 694, 175, BLUE, 5)
hline(598, 694, 294, "#FF0000", 2.4)
rect(3965, 92, 4215, 147)
rect(4106, 332, 4499, 445)
rect(1289.5, 1350.6, 1616, 1515.7)
rect(3077, 1336, 3402.5, 1502)
rect(4349.5, 1337, 4675, 1503)
# critical-stress marker: runs from the zero line of the inset down past its axis
shapes.append(dict(type="line", xref="x3", yref="paper", x0=TAU_C, x1=TAU_C, y0=fy(468.5), y1=fy(604),
                   line=dict(color="#FF0000", width=1.8), layer="above"))
fig.update_layout(shapes=shapes)

ann = []
def text(t, x, y, size, family=TXT, color="black", xanchor="center", **kw):
    ann.append(dict(text=t, x=fx(x), y=fy(y), xref="paper", yref="paper", showarrow=False, xanchor=xanchor, yanchor="middle",
                    font=dict(family=family, size=size * S, color=color), **kw))
def arrow(x0, y0, x1, y1):
    ann.append(dict(text="", x=fx(x1), y=fy(y1), xref="paper", yref="paper", showarrow=True, axref="pixel", ayref="pixel",
                    ax=(x0 - x1) * S, ay=(y0 - y1) * S, arrowhead=2, arrowsize=1.5, arrowwidth=3.6, arrowcolor="#FF0000"))

text("<b>Flow depth</b>", 704, 175, 70, xanchor="left")
text("<b>Critical flow depth</b>", 706, 294, 72, xanchor="left")
text("<b>Soil properties</b>", 4090, 119, 37)
text("y = 9.2E-08x - 6.2E-07", 4302, 363, 39)
text("R<sup>2</sup> = 0.8", 4302, 416, 39)
text("<b><i>τ</i> [Pa]</b>", 4032, 600, 37)
text("τ<sub>c</sub>", 3882, 598, 40, color="#FF0000", family="Liberation Serif, serif")
text("<b><i>k<sub>d</sub></i></b>", 4309, 249, 40, color="#FF0000")
text("<b>Jun 2007</b>", 1453, 1392, 52)
text("<b>Bathymetry</b>", 1453, 1461, 50)
text("<b>Jul 2008</b>", 3240, 1379, 52)
text("<b>Bathymetry</b>", 3223, 1449, 50)
text("<b>Mar 2009</b>", 4512, 1380, 52)
text("<b>Bathymetry</b>", 4512, 1449, 50)
text("<b>ft.</b>", 2146, 1371, 50)
arrow(511, 1094, 713, 1321)
arrow(3105.7, 1110.6, 2972, 1321)
arrow(4520, 1106, 4293, 1316)
fig.update_layout(annotations=ann)

fig.write_html("out.html", config={"displayModeBar": False}, post_script="document.body.style.margin='0';")
